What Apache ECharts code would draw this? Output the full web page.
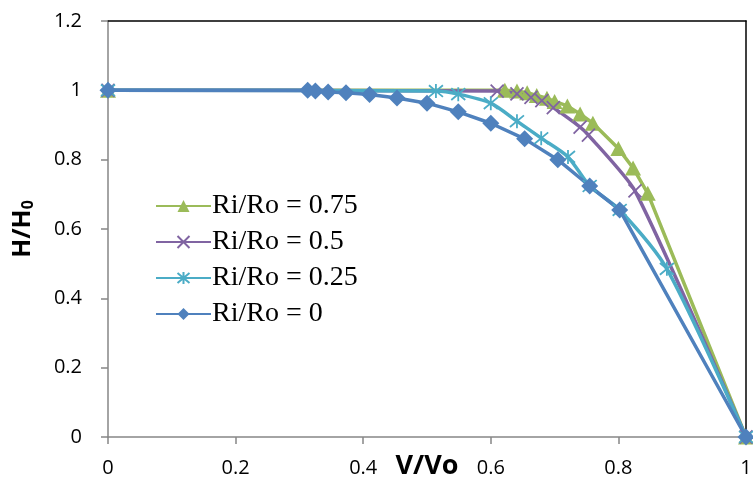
<!DOCTYPE html>
<html>
<head>
<meta charset="utf-8">
<script src="https://cdn.jsdelivr.net/npm/echarts@6/dist/echarts.min.js"></script>
<style>
  html, body { margin: 0; padding: 0; background: #fff; }
  #chart { width: 753px; height: 487px; }
</style>
</head>
<body>
<div id="chart"></div>
<script>
// Relative head H/H0 against relative velocity V/Vo for four radius ratios
const seriesNames = ['Ri/Ro = 0.75', 'Ri/Ro = 0.5', 'Ri/Ro = 0.25', 'Ri/Ro = 0'];

const vRatio075 = [0, 0.622, 0.641, 0.657, 0.672, 0.688, 0.700, 0.720, 0.740, 0.760, 0.800, 0.823, 0.846, 1];
const hRatio075 = [1, 1.000, 0.998, 0.993, 0.985, 0.977, 0.968, 0.955, 0.932, 0.905, 0.832, 0.776, 0.703, 0];

const vRatio05 = [0, 0.610, 0.641, 0.663, 0.680, 0.698, 0.740, 0.753, 0.826, 1];
const hRatio05 = [1, 0.998, 0.990, 0.980, 0.970, 0.950, 0.894, 0.871, 0.710, 0];

const vRatio025 = [0, 0.514, 0.549, 0.600, 0.641, 0.679, 0.721, 0.755, 0.802, 0.876, 1];
const hRatio025 = [1, 0.998, 0.989, 0.963, 0.911, 0.862, 0.808, 0.724, 0.655, 0.485, 0];

const vRatio0 = [0, 0.313, 0.325, 0.345, 0.373, 0.410, 0.453, 0.500, 0.549, 0.600, 0.653, 0.705, 0.755, 0.802, 1];
const hRatio0 = [1, 1.000, 0.998, 0.995, 0.993, 0.988, 0.978, 0.963, 0.938, 0.905, 0.860, 0.800, 0.724, 0.655, 0];

const xTicks = { min: 0, max: 1, step: 0.2 };
const yTicks = { min: 0, max: 1.2, step: 0.2 };

const pairs = (xs, ys) => xs.map((x, i) => [x, ys[i]]);

const colors = ['#9bbb59', '#8064a2', '#4bacc6', '#4f81bd'];
const crossPath = 'path://M0,0L10,10M10,0L0,10';
const starPath = 'path://M0,0L10,10M10,0L0,10M5,-1L5,11';

const axisFont = "'Open Sans', 'Liberation Sans', sans-serif";

function lineSeries(name, data, color, symbol, size, smooth, strokeOnly) {
  return {
    name: name,
    type: 'line',
    data: data,
    smooth: smooth,
    symbol: symbol,
    symbolSize: size,
    showAllSymbol: true,
    lineStyle: { color: color, width: 3.5 },
    itemStyle: strokeOnly
      ? { color: color, borderColor: color, borderWidth: 1.8 }
      : { color: color, borderColor: color, borderWidth: 0 },
    emphasis: { disabled: true },
    animation: false
  };
}

const chart = echarts.init(document.getElementById('chart'), null, { renderer: 'canvas' });

chart.setOption({
  backgroundColor: '#ffffff',
  animation: false,
  grid: { left: 108, right: 7, top: 21, bottom: 50, containLabel: false, outerBoundsMode: 'none' },
  legend: {
    orient: 'vertical',
    left: 150,
    top: 186,
    itemWidth: 55,
    itemHeight: 15,
    itemGap: 6,
    data: seriesNames,
    textStyle: {
      fontFamily: "'Liberation Serif', 'DejaVu Serif', serif",
      fontSize: 28,
      lineHeight: 30,
      color: '#000',
      padding: [0, 0, 0, -4]
    }
  },
  xAxis: [{
    type: 'value',
    min: xTicks.min,
    max: xTicks.max,
    interval: xTicks.step,
    name: 'V/Vo',
    nameLocation: 'middle',
    nameGap: 16,
    nameMoveOverlap: false,
    nameTextStyle: { fontFamily: axisFont, fontWeight: 'bold', fontSize: 27, color: '#000', verticalAlign: 'top' },
    axisLine: { show: true, lineStyle: { color: '#868686', width: 1.5 } },
    axisTick: { show: true, inside: false, length: 7, lineStyle: { color: '#868686', width: 1.5 } },
    axisLabel: { margin: 21, fontFamily: axisFont, fontSize: 20, color: '#000' },
    splitLine: { show: false }
  }, {
    type: 'value',
    position: 'top',
    min: xTicks.min,
    max: xTicks.max,
    axisLine: { show: true, onZero: false, lineStyle: { color: '#000', width: 1.5 } },
    axisTick: { show: false },
    axisLabel: { show: false },
    splitLine: { show: false }
  }],
  yAxis: [{
    type: 'value',
    min: yTicks.min,
    max: yTicks.max,
    interval: yTicks.step,
    name: '{m|H/H}{s|0}',
    nameLocation: 'middle',
    nameGap: 72,
    nameRotate: 90,
    nameMoveOverlap: false,
    nameTextStyle: {
      rich: {
        m: { fontFamily: axisFont, fontWeight: 'bold', fontSize: 25, color: '#000' },
        s: { fontFamily: axisFont, fontWeight: 'bold', fontSize: 16, color: '#000', verticalAlign: 'bottom', padding: [10, 0, 0, 0] }
      }
    },
    axisLine: { show: true, lineStyle: { color: '#868686', width: 1.5 } },
    axisTick: { show: true, inside: false, length: 7, lineStyle: { color: '#868686', width: 1.5 } },
    axisLabel: { margin: 26, fontFamily: axisFont, fontSize: 20, color: '#000' },
    splitLine: { show: false }
  }, {
    type: 'value',
    position: 'right',
    min: yTicks.min,
    max: yTicks.max,
    axisLine: { show: true, onZero: false, lineStyle: { color: '#000', width: 1.5 } },
    axisTick: { show: false },
    axisLabel: { show: false },
    splitLine: { show: false }
  }],
  series: [
    lineSeries(seriesNames[0], pairs(vRatio075, hRatio075), colors[0], 'triangle', [16, 15], false, false),
    lineSeries(seriesNames[1], pairs(vRatio05, hRatio05), colors[1], crossPath, 13, 0.2, true),
    lineSeries(seriesNames[2], pairs(vRatio025, hRatio025), colors[2], starPath, 14, 0.25, true),
    lineSeries(seriesNames[3], pairs(vRatio0, hRatio0), colors[3], 'diamond', 17, false, false)
  ]
});
</script>
</body>
</html>
